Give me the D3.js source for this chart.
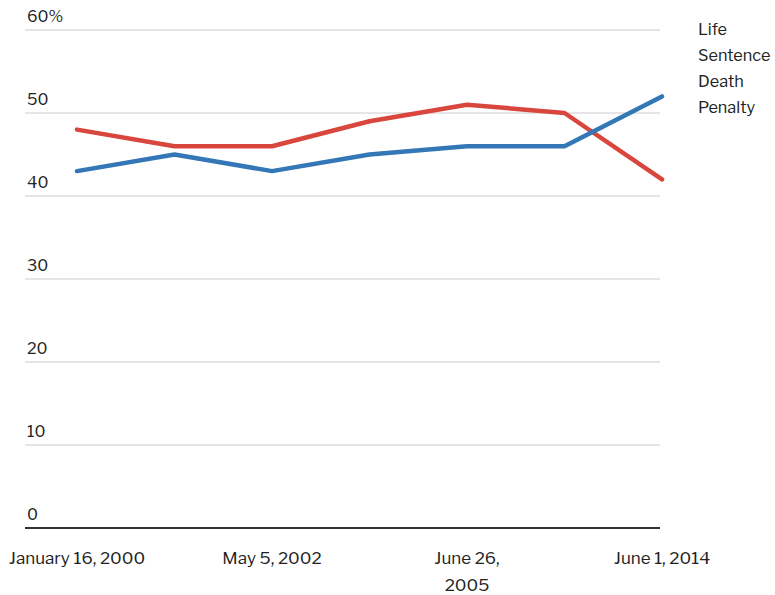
<!DOCTYPE html>
<html><head><meta charset="utf-8">
<script src="https://cdn.jsdelivr.net/npm/d3@7"></script>
<style>body{margin:0;background:#fff}text{font-family:"Libre Franklin","Roboto","Liberation Sans",sans-serif;fill:#222}</style>
</head><body><svg id="c" width="775" height="595"></svg>
<script>
const categories = [0,1,2,3,4,5,6];
const xTickLabels = ["January 16, 2000", "", "May 5, 2002", "", "June 26,|2005", "", "June 1, 2014"];
const lifeSentence = [43, 45, 43, 45, 46, 46, 52];
const deathPenalty = [48, 46, 46, 49, 51, 50, 42];
const yTicks = [0, 10, 20, 30, 40, 50, 60];
const legendLabels = [["Life","Sentence"],["Death","Penalty"]];

const svg = d3.select("#c");
const x = d3.scalePoint().domain(categories).range([77, 662]);
const y = d3.scaleLinear().domain([0, 60]).range([528, 30]);

const g = svg.append("g");
yTicks.forEach(t => {
  g.append("line").attr("x1", 25).attr("x2", 660).attr("y1", y(t)).attr("y2", y(t))
    .attr("stroke", t === 0 ? "#333" : "#dcdcdc").attr("stroke-width", t === 0 ? 2 : 1.5);
  g.append("text").attr("x", 27).attr("y", y(t) - 8).attr("font-size", 16)
    .text(t === 60 ? "60%" : t);
});

categories.forEach((c, i) => {
  const lines = xTickLabels[i].split("|");
  if (!xTickLabels[i]) return;
  const t = g.append("text").attr("text-anchor", "middle").attr("font-size", 17);
  lines.forEach((l, k) => t.append("tspan").attr("x", x(c)).attr("y", 564 + k * 27).text(l));
});

const line = d3.line().x((d, i) => x(categories[i])).y(d => y(d));
[[deathPenalty, "#d9463d"], [lifeSentence, "#3477b6"]].forEach(([data, col]) => {
  g.append("path").datum(data).attr("d", line).attr("fill", "none")
    .attr("stroke", col).attr("stroke-width", 4.5).attr("stroke-linejoin", "round").attr("stroke-linecap", "round");
});

let ly = 35;
legendLabels.forEach(ls => ls.forEach(l => {
  g.append("text").attr("x", 698).attr("y", ly).attr("font-size", 16.3).text(l);
  ly += 26;
}));
</script></body></html>
